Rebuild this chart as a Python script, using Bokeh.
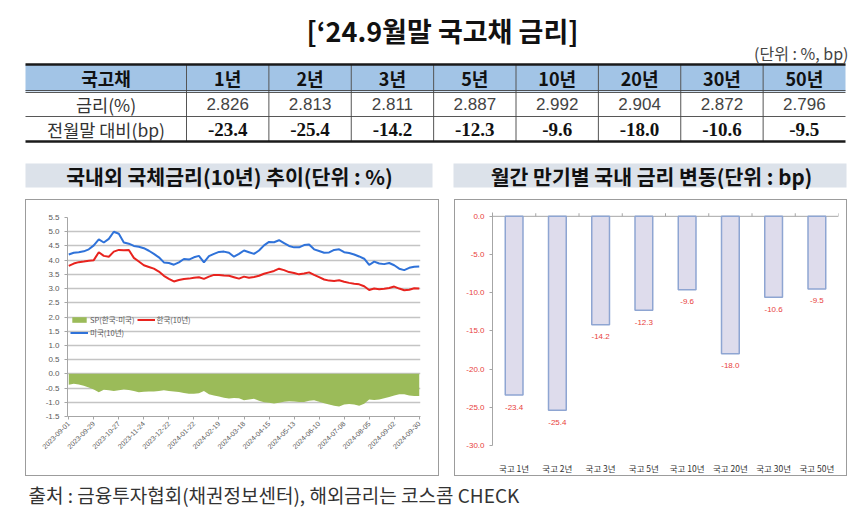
import math
from bokeh.plotting import figure
from bokeh.layouts import column, row
from bokeh.models import (Range1d, FixedTicker, Legend, LegendItem, Spacer, NumeralTickFormatter)
from bokeh.core.properties import value
from bokeh.embed import file_html
from bokeh.resources import INLINE

# ---------------- data ----------------
title_text = "[‘24.9월말 국고채 금리]"
unit_text = "(단위 : %, bp)"
row_header = "국고채"
row_rate = "금리(%)"
row_change = "전월말 대비(bp)"
tenors = ["1년", "2년", "3년", "5년", "10년", "20년", "30년", "50년"]
rates = [2.826, 2.813, 2.811, 2.887, 2.992, 2.904, 2.872, 2.796]
changes = [-23.4, -25.4, -14.2, -12.3, -9.6, -18.0, -10.6, -9.5]
bar_cats = ["국고 1년", "국고 2년", "국고 3년", "국고 5년", "국고 10년", "국고 20년", "국고 30년", "국고 50년"]

left_title = "국내외 국체금리(10년) 추이(단위 : %)"
right_title = "월간 만기별 국내 금리 변동(단위 : bp)"
source_text = "출처 : 금융투자협회(채권정보센터), 해외금리는 코스콤 CHECK"

date_labels = ["2023-09-01", "2023-09-29", "2023-10-27", "2023-11-24", "2023-12-22",
               "2024-01-22", "2024-02-19", "2024-03-18", "2024-04-15", "2024-05-13",
               "2024-06-10", "2024-07-08", "2024-08-05", "2024-09-02", "2024-09-30"]
date_label_pos = [0, 20, 40, 60, 80, 100, 120, 140, 160, 180, 200, 220, 240, 260, 280]

obs_index = list(range(0, 281, 4))
us_10y = [4.20, 4.26, 4.28, 4.31, 4.38, 4.52, 4.73, 4.62, 4.75, 5.00, 4.93, 4.62, 4.58, 4.50,
          4.47, 4.42, 4.33, 4.22, 4.10, 3.92, 3.90, 3.84, 3.92, 4.04, 4.02, 4.10, 4.15, 3.92,
          4.14, 4.22, 4.29, 4.30, 4.26, 4.12, 4.22, 4.34, 4.28, 4.22, 4.34, 4.52, 4.64, 4.63,
          4.70, 4.60, 4.50, 4.45, 4.45, 4.53, 4.55, 4.38, 4.32, 4.26, 4.27, 4.36, 4.38, 4.28,
          4.25, 4.20, 4.13, 4.05, 3.83, 3.95, 3.88, 3.86, 3.90, 3.82, 3.70, 3.65, 3.73, 3.77, 3.78]
kr_10y = [3.80, 3.88, 3.93, 3.95, 3.98, 4.00, 4.28, 4.15, 4.12, 4.30, 4.36, 4.35, 4.36, 4.08,
          3.95, 3.82, 3.76, 3.70, 3.60, 3.45, 3.34, 3.25, 3.30, 3.34, 3.35, 3.38, 3.40, 3.34,
          3.42, 3.48, 3.48, 3.46, 3.45, 3.40, 3.35, 3.42, 3.38, 3.41, 3.45, 3.52, 3.57, 3.62,
          3.70, 3.65, 3.58, 3.55, 3.50, 3.53, 3.57, 3.48, 3.40, 3.32, 3.28, 3.27, 3.29, 3.24,
          3.20, 3.17, 3.15, 3.08, 2.95, 3.00, 2.98, 2.99, 3.02, 3.07, 3.00, 2.94, 2.96, 3.01, 3.00]
spread = [-0.38, -0.35, -0.37, -0.42, -0.48, -0.55, -0.65, -0.56, -0.58, -0.60, -0.58, -0.55,
          -0.57, -0.60, -0.65, -0.63, -0.62, -0.62, -0.60, -0.58, -0.60, -0.62, -0.64, -0.67,
          -0.70, -0.70, -0.68, -0.60, -0.72, -0.76, -0.80, -0.84, -0.87, -0.85, -0.86, -0.93,
          -0.90, -0.88, -0.95, -1.00, -1.02, -1.04, -1.02, -0.98, -0.96, -0.97, -0.99, -0.99,
          -0.95, -0.93, -0.98, -1.03, -1.08, -1.12, -1.15, -1.08, -1.06, -1.08, -1.12, -1.05,
          -0.90, -0.92, -0.90, -0.86, -0.81, -0.76, -0.72, -0.72, -0.76, -0.78, -0.78]
left_ticks = [-1.5, -1.0, -0.5, 0.0, 0.5, 1.0, 1.5, 2.0, 2.5, 3.0, 3.5, 4.0, 4.5, 5.0, 5.5]
right_ticks = [-30, -25, -20, -15, -10, -5, 0]

# ---------------- style ----------------
KR = "Noto Sans CJK KR"
LAT = "Liberation Sans"
BOX_CSS = {"outline": "1.5px solid #9C9C9C", "outline-offset": "-1.5px"}


def canvas_fig(w, h):
    f = figure(width=w, height=h, x_range=Range1d(0, w), y_range=Range1d(h, 0),
               x_axis_location=None, y_axis_location=None, min_border=0,
               output_backend="svg", toolbar_location=None)
    f.grid.visible = False
    f.outline_line_color = None
    return f


# ---------------- top : title + table ----------------
top = canvas_fig(866, 157)
top.text(x=[442], y=[30], text=[title_text], text_font=value(KR), text_font_style="bold",
         text_font_size="27px", text_align="center", text_baseline="middle", text_color="#111111")
top.text(x=[848], y=[52], text=[unit_text], text_font=value(KR), text_font_size="16px",
         text_align="right", text_baseline="middle", text_color="#444444")

tbl_left, tbl_right, first_col = 25, 845, 186
col_w = (tbl_right - first_col) / len(tenors)
y_top, y_h, y_r2, y_bot = 64, 91, 116, 141
edges = [first_col + col_w * k for k in range(len(tenors))]
centers = [first_col + col_w * (k + 0.5) for k in range(len(tenors))]
label_x = (tbl_left + first_col) / 2

top.quad(left=[tbl_left], right=[tbl_right], top=[y_top], bottom=[y_h],
         fill_color="#A2C4E6", line_color=None)
top.segment(x0=edges, x1=edges, y0=[y_top] * len(edges), y1=[y_bot] * len(edges),
            line_color="#555555", line_width=1)
top.segment(x0=[tbl_left] * 2, x1=[tbl_right] * 2, y0=[y_top, y_bot], y1=[y_top, y_bot],
            line_color="#1A1A1A", line_width=2.5)
top.segment(x0=[tbl_left] * 3, x1=[tbl_right] * 3, y0=[y_h - 1, y_h + 1, y_r2],
            y1=[y_h - 1, y_h + 1, y_r2], line_color="#444444", line_width=0.9)

top.text(x=[label_x], y=[(y_top + y_h) / 2], text=[row_header], text_font=value(KR),
         text_font_style="bold", text_font_size="18px", text_align="center",
         text_baseline="middle", text_color="#111111")
top.text(x=centers, y=[(y_top + y_h) / 2] * len(tenors), text=tenors, text_font=value(KR),
         text_font_style="bold", text_font_size="18px", text_align="center",
         text_baseline="middle", text_color="#111111")
top.text(x=[label_x, label_x], y=[(y_h + y_r2) / 2, (y_r2 + y_bot) / 2],
         text=[row_rate, row_change], text_font=value(KR), text_font_size="17.5px",
         text_align="center", text_baseline="middle", text_color="#333333")
top.text(x=centers, y=[(y_h + y_r2) / 2] * len(rates), text=[f"{r:.3f}" for r in rates],
         text_font=value(LAT), text_font_size="17px", text_align="center",
         text_baseline="middle", text_color="#444444")
top.text(x=centers, y=[(y_r2 + y_bot) / 2] * len(changes), text=[f"{c:.1f}" for c in changes],
         text_font=value("Liberation Serif"), text_font_style="bold", text_font_size="19px",
         text_align="center", text_baseline="middle", text_color="#111111")

# ---------------- banners ----------------
LW, RW = 445, 421
BH = 42
ban_l = canvas_fig(LW, BH)
ban_l.quad(left=[25], right=[432], top=[6], bottom=[30], fill_color="#DCE2EA", line_color=None)
ban_l.text(x=[229], y=[18.5], text=[left_title], text_font=value(KR), text_font_style="bold",
           text_font_size="20.5px", text_align="center", text_baseline="middle",
           text_color="#111111")
ban_r = canvas_fig(RW, BH)
ban_r.quad(left=[8], right=[401], top=[6], bottom=[30], fill_color="#DCE2EA", line_color=None)
ban_r.text(x=[206], y=[18.5], text=[right_title], text_font=value(KR), text_font_style="bold",
           text_font_size="20.5px", text_align="center", text_baseline="middle",
           text_color="#111111")

# ---------------- left chart ----------------
CH = 277
lc = figure(width=414, height=CH, x_range=Range1d(-1, 281), y_range=Range1d(-1.5, 5.5),
            min_border_left=42, min_border_right=19, min_border_top=18, min_border_bottom=60,
            frame_align=False, output_backend="svg", toolbar_location=None, styles=BOX_CSS)
lc.border_fill_color = None
lc.outline_line_color = None
lc.xgrid.visible = False
lc.ygrid.ticker = FixedTicker(ticks=left_ticks)
lc.ygrid.grid_line_color = "#C4C4C4"
lc.ygrid.grid_line_width = 1.4

r_sp = lc.varea(x=obs_index, y1=0, y2=spread, fill_color="#9BBB59")
r_kr = lc.line(obs_index, kr_10y, line_color="#E8231E", line_width=2)
r_us = lc.line(obs_index, us_10y, line_color="#2F72D9", line_width=2)

lc.yaxis.ticker = FixedTicker(ticks=left_ticks)
lc.yaxis.formatter = NumeralTickFormatter(format="0.0")
lc.xaxis.ticker = FixedTicker(ticks=date_label_pos)
lc.xaxis.major_label_overrides = {p: d for p, d in zip(date_label_pos, date_labels)}
lc.xaxis.major_label_orientation = math.pi / 4
for ax in (lc.xaxis, lc.yaxis):
    ax.major_label_text_font = LAT
    ax.major_label_text_color = "#595959"
    ax.axis_line_color = "#A6A6A6"
    ax.major_tick_line_color = "#A6A6A6"
    ax.minor_tick_line_color = None
    ax.major_tick_out = 3
    ax.major_tick_in = 0
lc.yaxis.major_label_text_font_size = "8px"
lc.xaxis.major_label_text_font_size = "7px"
lc.xaxis.major_label_standoff = 3

leg = Legend(items=[LegendItem(label="SP(한국-미국)", renderers=[r_sp]),
                    LegendItem(label="한국(10년)", renderers=[r_kr]),
                    LegendItem(label="미국(10년)", renderers=[r_us])],
             location=(3, 78), orientation="horizontal", ncols=2,
             label_text_font=KR, label_text_font_size="7.5px", label_text_color="#595959",
             glyph_width=18, glyph_height=7, label_height=10, label_standoff=2,
             spacing=2, padding=0, margin=0, background_fill_alpha=0, border_line_alpha=0)
lc.add_layout(leg)

# ---------------- right chart ----------------
bar_pos = list(range(len(bar_cats)))
rc = figure(width=393, height=CH, x_range=Range1d(-0.5, len(bar_cats) - 0.5),
            y_range=Range1d(-30, 0.5),
            min_border_left=38, min_border_right=9, min_border_top=13, min_border_bottom=27,
            frame_align=False, output_backend="svg", toolbar_location=None, styles=BOX_CSS)
rc.border_fill_color = None
rc.outline_line_color = None
rc.grid.visible = False

bounds = [p - 0.5 for p in bar_pos] + [len(bar_cats) - 0.5]
rc.segment(x0=[bounds[0]], x1=[bounds[-1]], y0=[0], y1=[0], line_color="#A6A6A6", line_width=1)
rc.segment(x0=bounds, x1=bounds, y0=[0] * len(bounds), y1=[0.4] * len(bounds),
           line_color="#A6A6A6", line_width=1)

rc.vbar(x=bar_pos, top=changes, bottom=0, width=0.41, fill_color="#DEDCEC",
        line_color="#8EA5D2", line_width=1.5)
rc.text(x=bar_pos, y=changes, text=[f"{c:.1f}" for c in changes], y_offset=12,
        text_font=value(LAT), text_font_size="8px", text_align="center",
        text_baseline="middle", text_color="#E8413C")

rc.yaxis.ticker = FixedTicker(ticks=right_ticks)
rc.yaxis.formatter = NumeralTickFormatter(format="0.0")
rc.yaxis.major_label_text_font = LAT
rc.yaxis.major_label_text_font_size = "8px"
rc.yaxis.major_label_text_color = "#E8413C"
rc.yaxis.axis_line_color = "#A6A6A6"
rc.yaxis.major_tick_line_color = "#A6A6A6"
rc.yaxis.minor_tick_line_color = None
rc.yaxis.major_tick_out = 3
rc.yaxis.major_tick_in = 0

rc.xaxis.ticker = FixedTicker(ticks=bar_pos)
rc.xaxis.major_label_overrides = {p: c for p, c in zip(bar_pos, bar_cats)}
rc.xaxis.axis_line_color = None
rc.xaxis.major_tick_line_color = None
rc.xaxis.minor_tick_line_color = None
rc.xaxis.major_label_text_font = KR
rc.xaxis.major_label_text_font_size = "8.5px"
rc.xaxis.major_label_text_color = "#333333"
rc.xaxis.major_label_standoff = 10

# ---------------- footer ----------------
foot = canvas_fig(866, 32)
foot.text(x=[28], y=[14], text=[source_text], text_font=value(KR), text_font_size="19px",
          text_align="left", text_baseline="middle", text_color="#333333")

left_block = column(ban_l, row(Spacer(width=25, height=CH), lc, Spacer(width=6, height=CH)),
                    Spacer(width=LW, height=4))
right_block = column(ban_r, row(Spacer(width=9, height=CH), rc, Spacer(width=19, height=CH)),
                     Spacer(width=RW, height=4))
page = column(top, row(left_block, right_block), foot)
open("out.html", "w").write(file_html(page, INLINE))
